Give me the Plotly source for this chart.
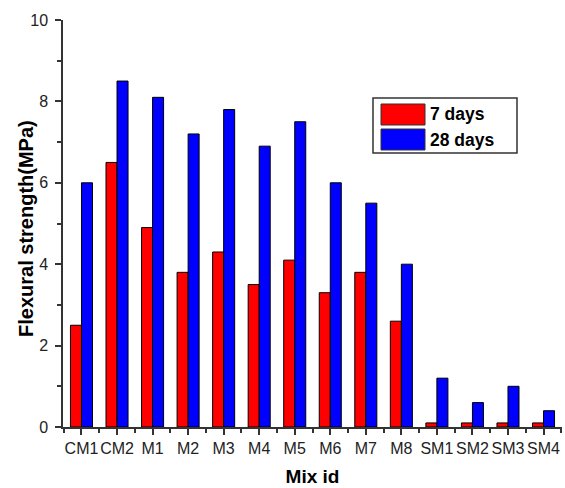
import plotly.graph_objects as go

mixes = ["CM1", "CM2", "M1", "M2", "M3", "M4", "M5", "M6", "M7", "M8",
         "SM1", "SM2", "SM3", "SM4"]
days7 = [2.5, 6.5, 4.9, 3.8, 4.3, 3.5, 4.1, 3.3, 3.8, 2.6, 0.1, 0.1, 0.1, 0.1]
days28 = [6.0, 8.5, 8.1, 7.2, 7.8, 6.9, 7.5, 6.0, 5.5, 4.0, 1.2, 0.6, 1.0, 0.4]
series_names = ["7 days", "28 days"]
series_colors = ["#ff0000", "#0000ff"]

xpos = list(range(len(mixes)))

W, H = 565, 488
ML, MR, MT, MB = 63, 3, 20, 61
PW, PH = W - ML - MR, H - MT - MB


def px_x(px):
    return (px - ML) / PW


def px_y(py):
    return (H - MB - py) / PH


fig = go.Figure()
for vals, name, col in zip([days7, days28], series_names, series_colors):
    fig.add_trace(go.Bar(x=xpos, y=vals, name=name, showlegend=False,
                         marker=dict(color=col, line=dict(color="black", width=1))))

FONT = "Arial, Liberation Sans, sans-serif"
axis_font = dict(family=FONT, size=16, color="#222")
title_font = dict(family=FONT, size=19, color="black", weight="bold")

# boxed legend with wide colour swatches
shapes = [dict(type="rect", xref="paper", yref="paper",
               x0=px_x(373), x1=px_x(517), y0=px_y(153), y1=px_y(98),
               line=dict(color="#333", width=1.5), fillcolor="white")]
annotations = []
for i, (name, col) in enumerate(zip(series_names, series_colors)):
    top = 104 + i * 25
    shapes.append(dict(type="rect", xref="paper", yref="paper",
                       x0=px_x(381), x1=px_x(425), y0=px_y(top + 21), y1=px_y(top),
                       line=dict(color="#333", width=1), fillcolor=col))
    annotations.append(dict(xref="paper", yref="paper", x=px_x(428),
                            y=px_y(top + 10.5), xanchor="left", yanchor="middle",
                            text=name, showarrow=False,
                            font=dict(family=FONT, size=17.5, color="black",
                                      weight="bold")))

# vertical axis title
annotations.append(dict(xref="paper", yref="paper", x=px_x(26), y=px_y(229),
                        xanchor="center", yanchor="middle", textangle=-90,
                        text="Flexural strength(MPa)", showarrow=False,
                        font=dict(family=FONT, size=20, color="black",
                                  weight="bold")))

fig.update_layout(
    width=W, height=H,
    margin=dict(l=ML, r=MR, t=MT, b=MB, autoexpand=False),
    paper_bgcolor="white", plot_bgcolor="white",
    barmode="group", bargap=0.38, bargroupgap=0,
    font=axis_font,
    showlegend=False,
    shapes=shapes,
    annotations=annotations,
    xaxis=dict(
        range=[-0.52, 13.52],
        tickmode="array", tickvals=xpos, ticktext=mixes, tickangle=0,
        showline=True, linecolor="#333", linewidth=1.5,
        ticks="outside", ticklen=6, tickcolor="#333", tickwidth=1.5,
        showgrid=False, zeroline=False,
        minor=dict(tickmode="linear", tick0=0.5, dtick=1, ticks="outside",
                   ticklen=4, tickcolor="#333", tickwidth=1.5, showgrid=False),
        title=dict(text="Mix id", standoff=14, font=title_font),
        tickfont=axis_font,
    ),
    yaxis=dict(
        range=[0, 10],
        tickmode="linear", tick0=0, dtick=2,
        showline=True, linecolor="#333", linewidth=1.5,
        ticks="outside", ticklen=6, tickcolor="#333", tickwidth=1.5,
        ticklabelstandoff=4,
        showgrid=False, zeroline=False,
        minor=dict(tickmode="linear", tick0=1, dtick=2, ticks="outside",
                   ticklen=4, tickcolor="#333", tickwidth=1.5, showgrid=False),
        tickfont=axis_font,
    ),
)

fig.write_html("out.html")
